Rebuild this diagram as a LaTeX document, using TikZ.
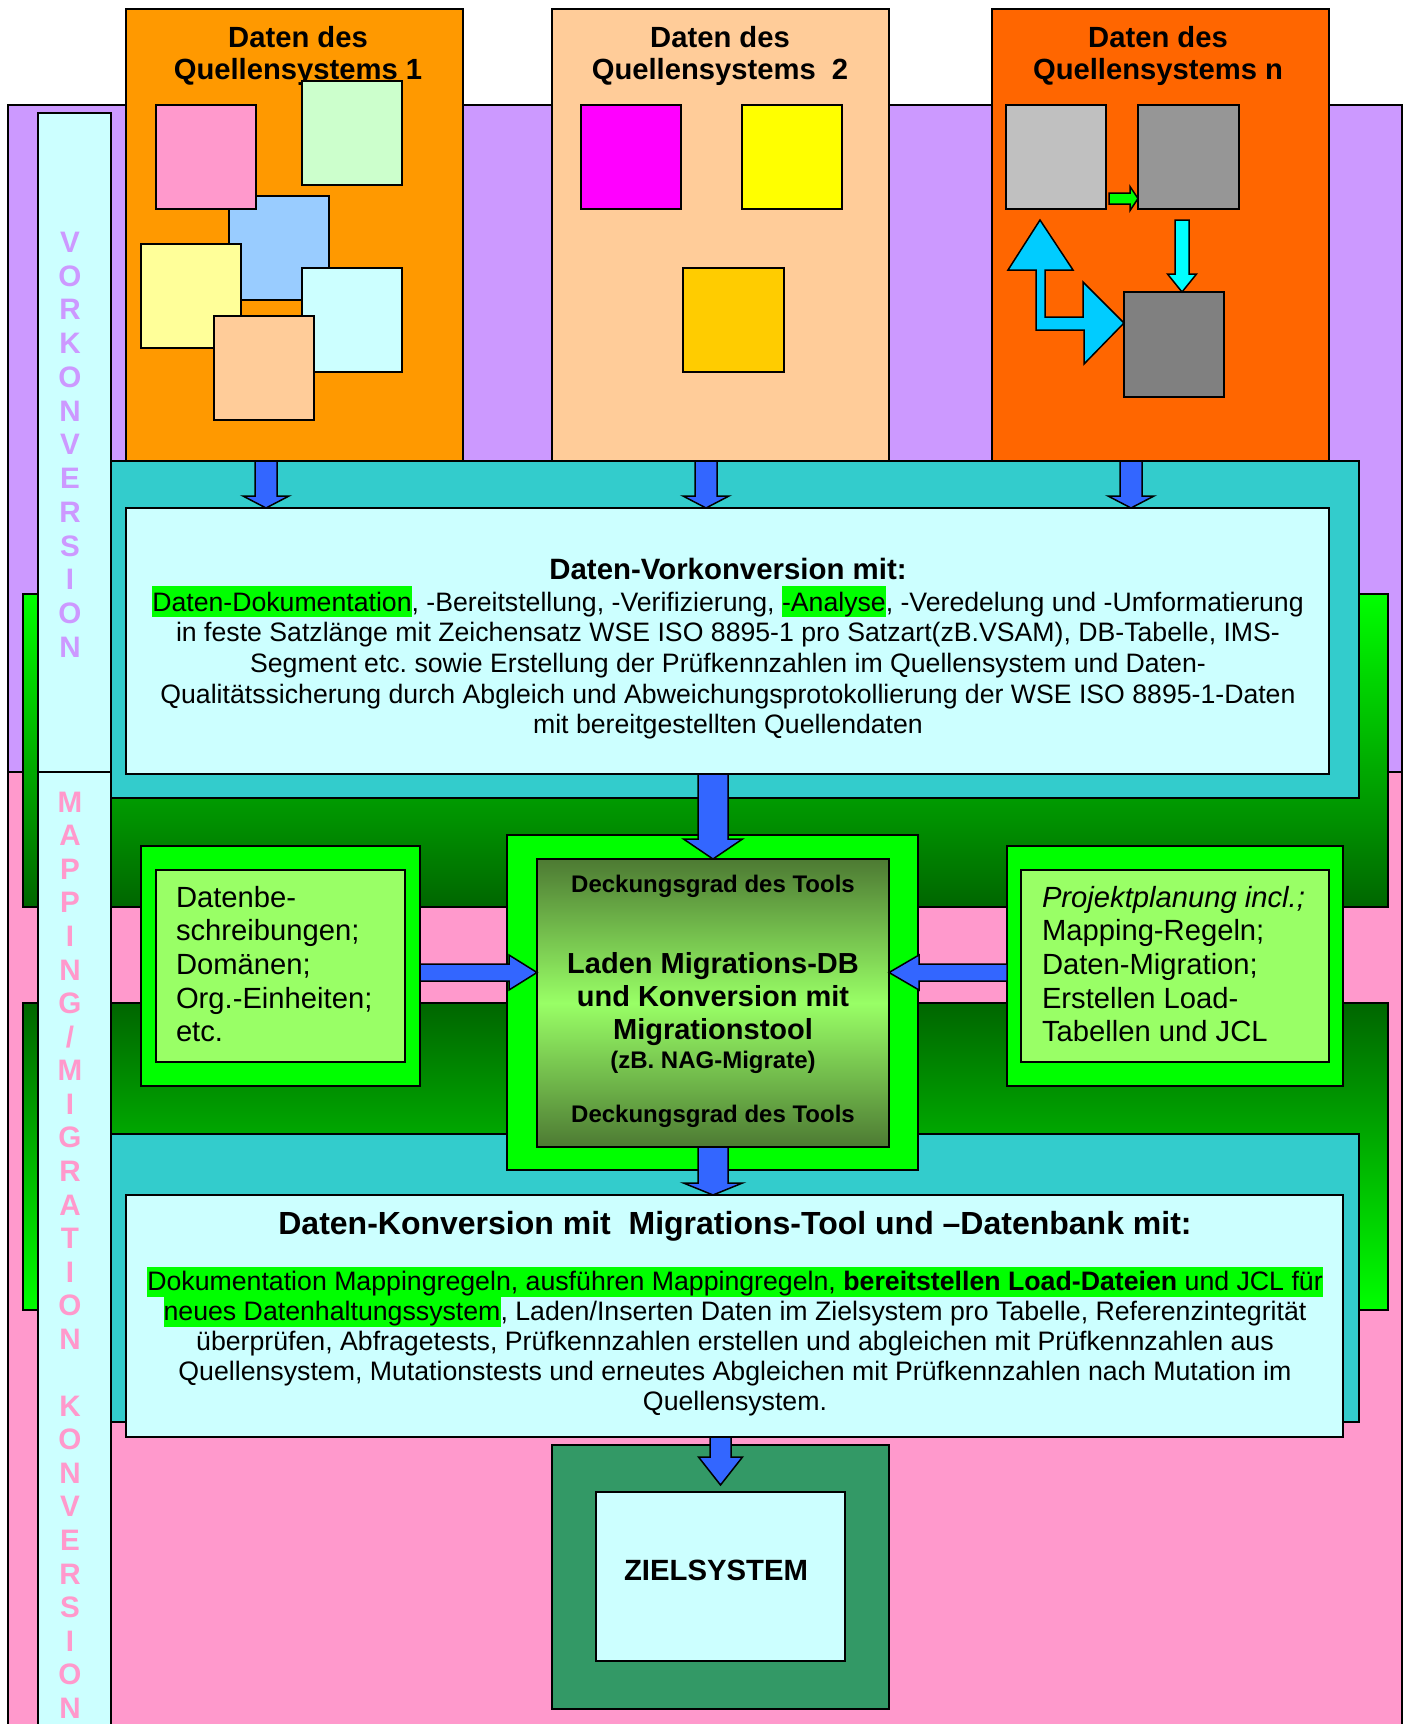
\documentclass[tikz,border=0pt]{standalone}
\usepackage{fontspec}
\setmainfont{Liberation Sans}
\usetikzlibrary{calc}
\frenchspacing
\definecolor{purp}{HTML}{CC99FF}
\definecolor{pinkbg}{HTML}{FF99CC}
\definecolor{lcyan}{HTML}{CCFFFF}
\definecolor{orgA}{HTML}{FF9900}
\definecolor{peach}{HTML}{FFCC99}
\definecolor{orgN}{HTML}{FF6600}
\definecolor{tealc}{HTML}{33CCCC}
\definecolor{bgreen}{HTML}{00FF00}
\definecolor{lgreen}{HTML}{99FF66}
\definecolor{arrblue}{HTML}{3366FF}
\definecolor{zgreen}{HTML}{339966}
\definecolor{sqlg}{HTML}{CCFFCC}
\definecolor{sqblue}{HTML}{99CCFF}
\definecolor{sqyel}{HTML}{FFFF99}
\definecolor{magen}{HTML}{FF00FF}
\definecolor{yel}{HTML}{FFFF00}
\definecolor{gold}{HTML}{FFCC00}
\definecolor{grayA}{HTML}{C0C0C0}
\definecolor{grayB}{HTML}{969696}
\definecolor{grayC}{HTML}{808080}
\definecolor{cyanA}{HTML}{00CCFF}
\definecolor{cyanB}{HTML}{00FFFF}
\definecolor{dkgreen}{HTML}{006600}
\definecolor{olivc}{HTML}{4D7A33}
\definecolor{hlg}{HTML}{00FF00}
\newcommand\hlA[1]{{\setlength{\fboxsep}{0pt}\colorbox{hlg}{\rule[-2.95pt]{0pt}{15.35pt}#1}}}
\newcommand\hlB[1]{{\setlength{\fboxsep}{0pt}\colorbox{hlg}{\rule[-3.5pt]{0pt}{15pt}#1}}}
\newcommand\mkrect[6]{\node[#6, inner sep=0pt, outer sep=0pt, minimum width={0.5pt*(#4-#2)}, minimum height={0.5pt*(#5-#3)}] (#1) at ({(#2+#4)/2},{(#3+#5)/2}) {};}
\newcommand\arrdown[6]{\draw[#6] ($(#1)+(-#3,0)$) -- ($(#2)+(-#3,-#5)$) -- ($(#2)+(-#4,-#5)$) -- (#2) -- ($(#2)+(#4,-#5)$) -- ($(#2)+(#3,-#5)$) -- ($(#1)+(#3,0)$) -- cycle;}
\newcommand\arrright[6]{\draw[#6] ($(#1)+(0,-#3)$) -- ($(#2)+(-#5,-#3)$) -- ($(#2)+(-#5,-#4)$) -- (#2) -- ($(#2)+(-#5,#4)$) -- ($(#2)+(-#5,#3)$) -- ($(#1)+(0,#3)$) -- cycle;}
\newcommand\arrleft[6]{\draw[#6] ($(#1)+(0,-#3)$) -- ($(#2)+(#5,-#3)$) -- ($(#2)+(#5,-#4)$) -- (#2) -- ($(#2)+(#5,#4)$) -- ($(#2)+(#5,#3)$) -- ($(#1)+(0,#3)$) -- cycle;}
\begin{document}
\begin{tikzpicture}[x=0.5pt,y=-0.5pt,line width=0.75pt,
  bx/.style={draw=black},
  blk/.style={draw=black, fill=arrblue, line join=miter},
  txt/.style={inner sep=0pt, outer sep=0pt, align=center, text=black},
  vlet/.style={inner sep=0pt, anchor=base, font={\fontsize{14.8}{16}\selectfont\bfseries}}]
\useasboundingbox (0,0) rectangle (1409,1724);
\fill[white] (0,0) rectangle (1409,1724);
% backgrounds
\mkrect{purpbg}{8}{105}{1402}{772}{bx, fill=purp}
\mkrect{pinkbgr}{8}{772}{1402}{1740}{bx, fill=pinkbg}
\mkrect{grnA}{23}{594}{1388}{907}{bx, top color=bgreen, bottom color=dkgreen}
\mkrect{grnB}{23}{1003}{1388}{1310}{bx, top color=dkgreen, bottom color=bgreen}
% source systems
\mkrect{srcA}{126}{9}{463}{461}{bx, fill=orgA}
\mkrect{srcB}{552}{9}{889}{461}{bx, fill=peach}
\mkrect{srcN}{992}{9}{1329}{461}{bx, fill=orgN}
\node[txt, anchor=north, font={\fontsize{14.6}{16}\selectfont\bfseries}] (tA) at (298,25) {\rule{0pt}{11pt}Daten des\\Quellensystems 1};
\node[txt, anchor=north, font={\fontsize{14.6}{16}\selectfont\bfseries}] (tB) at (720,25) {\rule{0pt}{11pt}Daten des\\Quellensystems~ 2};
\node[txt, anchor=north, font={\fontsize{14.6}{16}\selectfont\bfseries}] (tN) at (1158,25) {\rule{0pt}{11pt}Daten des\\Quellensystems n};
% squares system 1
\mkrect{a3}{229}{196}{329}{300}{bx, fill=sqblue}
\mkrect{a1}{156}{105}{256}{209}{bx, fill=pinkbg}
\mkrect{a2}{302}{81}{402}{185}{bx, fill=sqlg}
\mkrect{a4}{141}{244}{241}{348}{bx, fill=sqyel}
\mkrect{a5}{302}{268}{402}{372}{bx, fill=lcyan}
\mkrect{a6}{214}{316}{314}{420}{bx, fill=peach}
% squares system 2
\mkrect{b1}{581}{105}{681}{209}{bx, fill=magen}
\mkrect{b2}{742}{105}{842}{209}{bx, fill=yel}
\mkrect{b3}{683}{268}{784}{372}{bx, fill=gold}
% squares system n
\mkrect{n1}{1006}{105}{1106}{209}{bx, fill=grayA}
\mkrect{n2}{1138}{105}{1239}{209}{bx, fill=grayB}
\mkrect{n3}{1124}{292}{1224}{397}{bx, fill=grayC}
\coordinate (gy) at (1109,198.5);
\path (n2.west |- gy) coordinate (gt);
\arrright{gy}{gt}{5.5}{12}{8}{blk, fill=bgreen}
\coordinate (cy) at (1182,220);
\path (cy |- n3.north) coordinate (ct);
\arrdown{cy}{ct}{7}{14.5}{18}{blk, fill=cyanB}
\path ($(n1.south)+(-16,11)$) coordinate (Lu) (n3.west |- 0,323) coordinate (Lr);
\draw[blk, fill=cyanA] (Lu) -- ++(33,50) -- ++(-28,0) -- ++(0,47) -- ++(38,0) -- ++(0,-35) -- (Lr) -- ++(-40,41) -- ++(0,-34) -- ++(-48,0) -- ++(0,-60) -- ++(-28,0) -- cycle;
% Vorkonversion / Konversion panels
\mkrect{tealA}{111}{461}{1359}{798}{bx, fill=tealc}
\mkrect{vor}{126}{508}{1329}{774}{bx, fill=lcyan}
\mkrect{tealB}{111}{1134}{1359}{1422}{bx, fill=tealc}
\mkrect{konv}{126}{1195}{1343}{1437}{bx, fill=lcyan}
% side bar
\mkrect{barA}{38}{113}{111}{772}{bx, fill=lcyan}
\mkrect{barB}{38}{772}{111}{1740}{bx, fill=lcyan}
% mapping boxes
\mkrect{leftO}{141}{846}{420}{1086}{bx, fill=bgreen}
\mkrect{leftI}{156}{870}{405}{1062}{bx, fill=lgreen}
\mkrect{rightO}{1007}{846}{1343}{1086}{bx, fill=bgreen}
\mkrect{rightI}{1021}{870}{1329}{1062}{bx, fill=lgreen}
\mkrect{midO}{507}{835}{918}{1170}{bx, fill=bgreen}
\mkrect{midI}{537}{859}{889}{1147}{bx, top color=olivc, bottom color=olivc, middle color=lgreen}
% Zielsystem
\mkrect{zielO}{552}{1445}{889}{1709}{bx, fill=zgreen}
\mkrect{zielI}{596}{1492}{845}{1661}{bx, fill=lcyan}
% arrows
\coordinate (x1) at (266,0); \coordinate (x2) at (706,0); \coordinate (x3) at (1131,0);
\path (x1 |- srcA.south) coordinate (s1) (x1 |- vor.north) coordinate (t1);
\path (x2 |- srcB.south) coordinate (s2) (x2 |- vor.north) coordinate (t2);
\path (x3 |- srcN.south) coordinate (s3) (x3 |- vor.north) coordinate (t3);
\arrdown{s1}{t1}{11}{23}{12}{blk}
\arrdown{s2}{t2}{11}{23}{12}{blk}
\arrdown{s3}{t3}{11}{23}{12}{blk}
\path (midI.north |- vor.south) coordinate (s4) (midI.north) coordinate (t4);
\arrdown{s4}{t4}{15}{29.5}{20}{blk}
\path (midI.south) coordinate (s5) (midI.south |- konv.north) coordinate (t5);
\arrdown{s5}{t5}{15}{29.5}{12}{blk}
\path (zielI.north |- konv.south) coordinate (s6) ($(zielI.north)+(0,-7)$) coordinate (t6);
\arrdown{s6}{t6}{10.5}{22}{28}{blk}
\coordinate (hy) at (0,972.5);
\path (leftO.east |- hy) coordinate (s7) (midI.west |- hy) coordinate (t7);
\arrright{s7}{t7}{8.5}{17.5}{28}{blk}
\path (rightO.west |- hy) coordinate (s8) (midI.east |- hy) coordinate (t8);
\arrleft{s8}{t8}{8.5}{17.5}{30}{blk}
% vertical letters
\foreach \c [count=\i from 0] in {V,O,R,K,O,N,V,E,R,S,I,O,N}
  \node[vlet, text=purp] (vk\i) at (70,{252.3+33.75*\i}) {\c};
\foreach \c [count=\i from 0] in {M,A,P,P,I,N,G,/,M,I,G,R,A,T,I,O,N}
  \node[vlet, text=pinkbg] (mm\i) at (70,{812.3+33.56*\i}) {\c};
\foreach \c [count=\i from 0] in {K,O,N,V,E,R,S,I,O,N}
  \node[vlet, text=pinkbg] (kk\i) at (70,{1416.3+33.56*\i}) {\c};
% texts
\node[txt, anchor=base, font={\fontsize{14.7}{17}\selectfont\bfseries}] (vortitle) at (728,579) {Daten-Vorkonversion mit:};
\node[txt, anchor=north, font={\fontsize{13.33}{15.35}\selectfont}] (vorbody) at (728,586.2) {\hlA{Daten-Dokumentation}, -Bereitstellung, -Verifizierung, \hlA{-Analyse}, -Veredelung und -Umformatierung\\
in feste Satzlänge mit Zeichensatz WSE ISO 8895-1 pro Satzart(zB.VSAM), DB-Tabelle, IMS-\\
Segment etc. sowie Erstellung der Prüfkennzahlen im Quellensystem und Daten-\\
Qualitätssicherung durch Abgleich und Abweichungsprotokollierung der WSE ISO 8895-1-Daten\\
mit bereitgestellten Quellendaten};
\node[txt, anchor=north west, align=left, font={\fontsize{14.6}{16.85}\selectfont}] (lefttxt) at (176,883) {\rule{0pt}{12pt}Datenbe-\\schreibungen;\\Domänen;\\Org.-Einheiten;\\etc.};
\node[txt, anchor=north west, align=left, font={\fontsize{14.6}{16.85}\selectfont}] (righttxt) at (1042,883) {\rule{0pt}{12pt}\textit{Projektplanung incl.;}\\Mapping-Regeln;\\Daten-Migration;\\Erstellen Load-\\Tabellen und JCL};
\node[txt, anchor=base, font={\fontsize{12}{14}\selectfont\bfseries}] (deckA) at (713,892) {Deckungsgrad des Tools};
\node[txt, anchor=north, font={\fontsize{14.5}{16.5}\selectfont\bfseries}] (midtxt) at (713,951) {\rule{0pt}{11pt}Laden Migrations-DB\\und Konversion mit\\Migrationstool};
\node[txt, anchor=base, font={\fontsize{12}{13}\selectfont\bfseries}] (nag) at (713,1068) {(zB. NAG-Migrate)};
\node[txt, anchor=base, font={\fontsize{12}{14}\selectfont\bfseries}] (deckB) at (713,1122) {Deckungsgrad des Tools};
\node[txt, anchor=base, font={\fontsize{16}{18}\selectfont\bfseries}] (konvtitle) at (735,1234) {Daten-Konversion mit~ Migrations-Tool und –Datenbank mit:};
\node[txt, anchor=north, font={\fontsize{13.35}{15}\selectfont}] (konvbody) at (735,1267) {\hlB{Dokumentation Mappingregeln, ausführen Mappingregeln, \textbf{bereitstellen Load-Dateien} und JCL für}\\
\hlB{neues Datenhaltungssystem}, Laden/Inserten Daten im Zielsystem pro Tabelle, Referenzintegrität\\
überprüfen, Abfragetests, Prüfkennzahlen erstellen und abgleichen mit Prüfkennzahlen aus\\
Quellensystem, Mutationstests und erneutes Abgleichen mit Prüfkennzahlen nach Mutation im\\
Quellensystem.};
\node[txt, anchor=base, font={\fontsize{14.65}{17}\selectfont\bfseries}] (zieltxt) at (716,1580) {ZIELSYSTEM};
\end{tikzpicture}
\end{document}
